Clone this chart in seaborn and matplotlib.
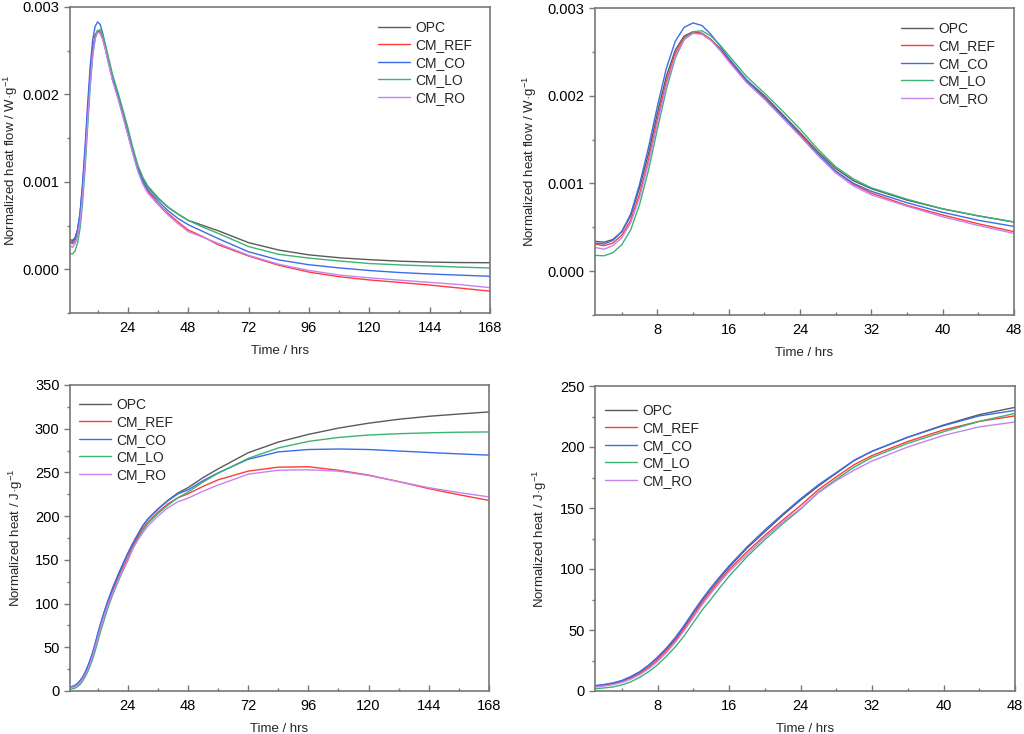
import numpy as np
import pandas as pd
import matplotlib
matplotlib.use("Agg")
import matplotlib.pyplot as plt
from matplotlib.ticker import MultipleLocator, FormatStrFormatter
import seaborn as sns

# hydration time (h)
time = [1, 2, 3, 4, 5, 6, 7, 8, 9, 10, 11, 12, 13, 14, 15, 16, 18, 20, 22, 24, 26, 28, 30, 32,
        36, 40, 44, 48, 54, 60, 72, 84, 96, 108, 120, 132, 144, 156, 168]

samples = ['OPC', 'CM_REF', 'CM_CO', 'CM_LO', 'CM_RO']
colors = ['#5a5a5a', '#ff3b3b', '#3a6ee8', '#3cb371', '#c384f0']

# heat flow, mW/g
flow_opc = [0.34, 0.33, 0.36, 0.45, 0.63, 0.95, 1.34, 1.80, 2.22, 2.52, 2.68, 2.73, 2.71, 2.64, 2.54, 2.41,
            2.18, 2.00, 1.79, 1.58, 1.36, 1.17, 1.03, 0.94, 0.81, 0.71, 0.63, 0.56, 0.50, 0.44,
            0.305, 0.22, 0.165, 0.132, 0.11, 0.093, 0.082, 0.077, 0.075]
flow_ref = [0.31, 0.29, 0.32, 0.41, 0.58, 0.88, 1.27, 1.73, 2.16, 2.48, 2.66, 2.72, 2.71, 2.64, 2.53, 2.40,
            2.16, 1.98, 1.77, 1.56, 1.34, 1.14, 0.99, 0.89, 0.75, 0.64, 0.54, 0.45, 0.37, 0.28,
            0.152, 0.046, -0.032, -0.085, -0.122, -0.15, -0.18, -0.215, -0.25]
flow_co = [0.32, 0.31, 0.35, 0.45, 0.65, 0.99, 1.41, 1.88, 2.31, 2.62, 2.78, 2.83, 2.80, 2.70, 2.57, 2.43,
           2.18, 1.98, 1.77, 1.55, 1.33, 1.14, 1.00, 0.91, 0.78, 0.67, 0.58, 0.51, 0.43, 0.35,
           0.20, 0.107, 0.052, 0.016, -0.014, -0.037, -0.054, -0.067, -0.08]
flow_lo = [0.18, 0.175, 0.21, 0.30, 0.47, 0.76, 1.15, 1.62, 2.07, 2.43, 2.64, 2.73, 2.74, 2.68, 2.58, 2.46,
           2.22, 2.03, 1.83, 1.62, 1.39, 1.19, 1.05, 0.95, 0.82, 0.71, 0.63, 0.56, 0.48, 0.41,
           0.26, 0.171, 0.128, 0.095, 0.066, 0.05, 0.038, 0.025, 0.015]
flow_ro = [0.27, 0.25, 0.29, 0.38, 0.55, 0.84, 1.23, 1.69, 2.12, 2.45, 2.64, 2.71, 2.70, 2.63, 2.52, 2.39,
           2.15, 1.96, 1.75, 1.54, 1.32, 1.12, 0.97, 0.87, 0.74, 0.62, 0.52, 0.43, 0.365, 0.295,
           0.16, 0.057, -0.013, -0.066, -0.098, -0.124, -0.15, -0.175, -0.21]

# cumulative heat, J/g
heat_opc = [4.1, 5.0, 6.3, 8.3, 11.5, 15.5, 20.8, 27.2, 34.6, 43, 53, 64, 74.5, 84, 93, 101.5,
            117, 130.5, 144, 156.5, 168, 178.5, 189, 196.5, 208, 218, 226.5, 232.5, 244, 254,
            272.5, 284.7, 293.5, 300.7, 306.3, 310.8, 314.2, 316.8, 319.2]
heat_ref = [3.7, 4.5, 5.7, 7.6, 10.5, 14.3, 19.3, 25.5, 33, 41.5, 51.3, 62, 72.5, 82, 91, 99.5,
            114, 127.5, 140, 152, 165, 175.5, 185.5, 193, 204.5, 214, 221, 225.5, 234, 241.5,
            251.5, 256, 256.5, 252.5, 247, 239.5, 231.5, 224.5, 218]
heat_co = [4.4, 5.3, 6.6, 8.6, 11.8, 15.8, 21.2, 27.8, 35.3, 44, 54, 65, 75.5, 85, 94, 102.5,
           118, 132, 145, 157.5, 169, 179, 189, 196.5, 208, 217.5, 225.5, 230, 240.5, 249.5,
           265, 273.5, 276.2, 276.8, 276.2, 274.5, 272.8, 271.2, 269.8]
heat_lo = [1.9, 2.5, 3.3, 5.0, 7.5, 11.2, 15.8, 21.5, 28.5, 36.3, 45.5, 56, 66.5, 75.5, 85, 94,
           110, 124, 137, 149, 163, 173.5, 183.5, 191.5, 203, 212.5, 221, 227.5, 239, 249,
           266, 278, 285.5, 290, 292.8, 294.3, 295.3, 296, 296.3]
heat_ro = [3.3, 4.1, 5.2, 7.0, 9.7, 13.4, 18.2, 24.2, 31.5, 40, 49.7, 60.3, 70.8, 80.3, 89.3, 97.8,
           112, 126, 138.5, 149.5, 162.5, 172.5, 181, 188.5, 200, 209.5, 216.5, 220.5, 228.5, 235.5,
           248, 252.5, 253, 251.5, 246.5, 239.5, 232.5, 227, 222]

flows = [flow_opc, flow_ref, flow_co, flow_lo, flow_ro]
heats = [heat_opc, heat_ref, heat_co, heat_lo, heat_ro]

rows = []
for name, fl, ht in zip(samples, flows, heats):
    for t, f, h in zip(time, fl, ht):
        rows.append({'time': t, 'sample': name, 'flow': f * 1e-3, 'heat': h})
df = pd.DataFrame(rows)
palette = dict(zip(samples, colors))

sns.set_style("ticks")
plt.rcParams['font.family'] = ['Liberation Sans', 'DejaVu Sans']
plt.rcParams['mathtext.default'] = 'regular'
plt.rcParams['font.size'] = 10

fig = plt.figure(figsize=(10.24, 7.34), dpi=100)
rects = [
    [70 / 1024, 1 - 313 / 734, 420 / 1024, 306 / 734],
    [595 / 1024, 1 - 315 / 734, 419 / 1024, 307 / 734],
    [70 / 1024, 1 - 691 / 734, 419 / 1024, 306 / 734],
    [595 / 1024, 1 - 691 / 734, 420 / 1024, 305 / 734],
]
axes = [fig.add_axes(r) for r in rects]

flow_label = 'Normalized heat flow / W·g$^{-1}$'
heat_label = 'Normalized heat / J·g$^{-1}$'

settings = [
    # y column, xmax, xmajor, ylim, ymajor, fmt, ylabel, ylabel x, legend loc, anchor
    ('flow', 168, 24, (-0.0005, 0.003), 0.001, '%.3f', flow_label, -0.119, 'upper right', (0.957, 0.955)),
    ('flow', 48, 8, (-0.0005, 0.003), 0.001, '%.3f', flow_label, -0.134, 'upper right', (0.955, 0.955)),
    ('heat', 168, 24, (0, 350), 50, '%d', heat_label, -0.107, 'upper left', (0.022, 0.958)),
    ('heat', 48, 8, (0, 250), 50, '%d', heat_label, -0.110, 'upper left', (0.024, 0.942)),
]

for ax, (col, xmax, xmaj, ylim, ymaj, fmt, ylab, ylx, loc, anchor) in zip(axes, settings):
    sns.lineplot(data=df, x='time', y=col, hue='sample', hue_order=samples,
                 palette=palette, linewidth=1.0, ax=ax)
    ax.set_xlim(1, xmax)
    ax.set_ylim(*ylim)
    ax.xaxis.set_major_locator(MultipleLocator(xmaj))
    ax.xaxis.set_minor_locator(MultipleLocator(xmaj / 2))
    ax.yaxis.set_major_locator(MultipleLocator(ymaj))
    ax.yaxis.set_minor_locator(MultipleLocator(ymaj / 2))
    ax.yaxis.set_major_formatter(FormatStrFormatter(fmt))
    ax.tick_params(axis='x', which='major', direction='in', length=4, width=1, colors='#777777',
                   labelcolor='black', labelsize=10.5, pad=6)
    ax.tick_params(axis='x', which='minor', direction='in', length=2.5, width=1, colors='#777777')
    ax.tick_params(axis='y', which='major', direction='out', length=4, width=1, colors='#777777',
                   labelcolor='black', labelsize=10.5)
    ax.tick_params(axis='y', which='minor', direction='out', length=2.5, width=1, colors='#777777')
    for s in ax.spines.values():
        s.set_color('#777777')
        s.set_linewidth(1.2)
    ax.set_xlabel('Time / hrs', fontsize=9.5, labelpad=7)
    ax.set_ylabel(ylab, fontsize=9.5)
    ax.yaxis.set_label_coords(ylx, 0.5)
    ax.legend(loc=loc, bbox_to_anchor=anchor, frameon=False, fontsize=10,
              handlelength=2.3, handletextpad=0.35, labelspacing=0.25,
              borderpad=0, borderaxespad=0)

fig.savefig('out.png', dpi=100)
